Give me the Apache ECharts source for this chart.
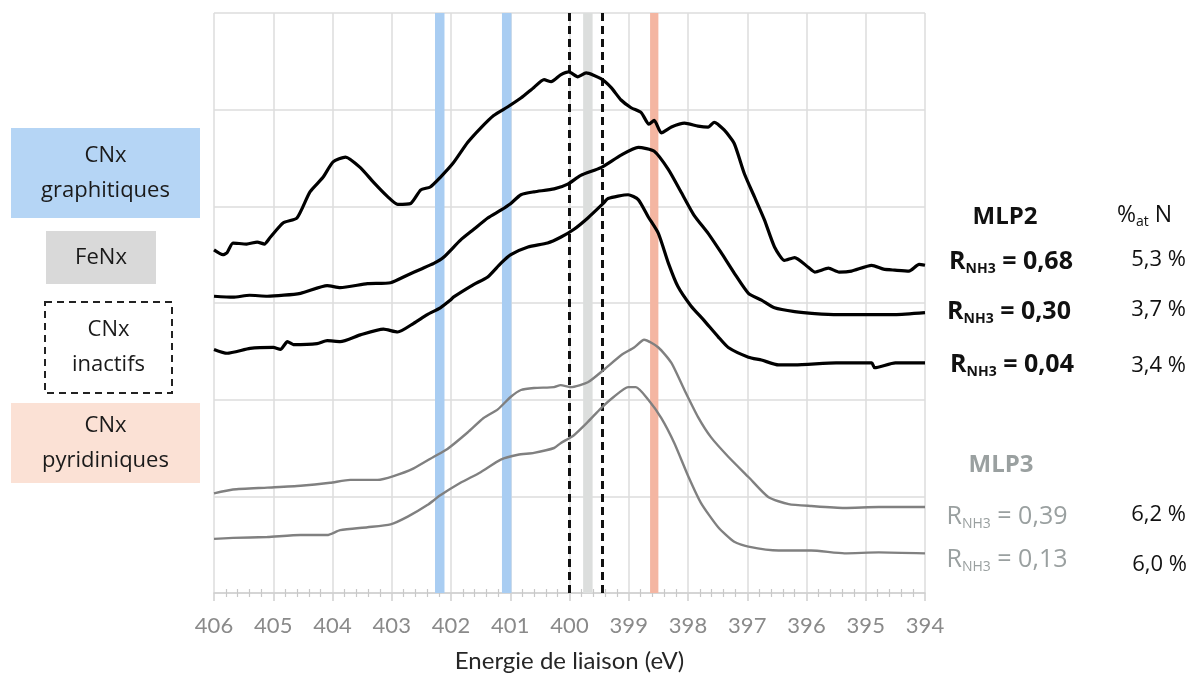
<!DOCTYPE html>
<html><head><meta charset="utf-8">
<script src="https://cdn.jsdelivr.net/npm/echarts@6/dist/echarts.min.js"></script>
<style>html,body{margin:0;padding:0;background:#fff}#c{width:1195px;height:678px}</style>
</head><body><div id="c"></div>
<script>
// Binding energy axis (eV), inverted
const xTicks = [406,405,404,403,402,401,400,399,398,397,396,395,394];
// Spectra: [binding energy eV, intensity (a.u., offset)]
const mlp2_068 = [[406.00,3.55],[405.85,3.50],[405.78,3.52],[405.68,3.62],[405.45,3.61],[405.27,3.63],[405.15,3.61],[405.05,3.68],[404.83,3.83],[404.60,3.88],[404.38,4.15],[404.16,4.30],[403.99,4.46],[403.78,4.51],[403.53,4.40],[403.31,4.25],[403.07,4.10],[402.90,4.02],[402.68,4.03],[402.51,4.17],[402.35,4.20],[402.18,4.30],[401.96,4.45],[401.72,4.66],[401.50,4.81],[401.28,4.94],[401.04,5.03],[400.82,5.12],[400.60,5.23],[400.43,5.31],[400.31,5.29],[400.15,5.36],[400.01,5.39],[399.86,5.34],[399.72,5.38],[399.47,5.32],[399.30,5.23],[399.13,5.10],[398.96,5.02],[398.79,4.97],[398.66,4.85],[398.57,4.89],[398.45,4.76],[398.28,4.82],[398.06,4.86],[397.83,4.83],[397.66,4.82],[397.56,4.87],[397.39,4.79],[397.22,4.65],[397.05,4.34],[396.88,4.10],[396.71,3.86],[396.54,3.58],[396.37,3.44],[396.20,3.47],[395.97,3.37],[395.86,3.32],[395.63,3.36],[395.45,3.32],[395.24,3.33],[394.90,3.39],[394.70,3.35],[394.51,3.34],[394.27,3.33],[394.10,3.40],[394.00,3.39]];
const mlp2_030 = [[406.00,3.07],[405.68,3.06],[405.40,3.08],[405.10,3.07],[404.54,3.10],[404.09,3.18],[403.87,3.16],[403.41,3.20],[403.02,3.21],[402.73,3.29],[402.51,3.35],[402.29,3.41],[402.13,3.47],[401.84,3.65],[401.62,3.76],[401.38,3.88],[401.16,3.96],[400.99,4.03],[400.82,4.12],[400.60,4.15],[400.26,4.18],[400.03,4.23],[399.81,4.32],[399.47,4.40],[399.13,4.53],[398.84,4.61],[398.57,4.57],[398.33,4.38],[398.11,4.14],[397.90,3.91],[397.66,3.72],[397.44,3.52],[397.22,3.31],[396.98,3.10],[396.76,3.03],[396.54,2.95],[396.20,2.91],[395.86,2.89],[395.46,2.88],[395.07,2.88],[394.51,2.88],[394.00,2.90]];
const mlp2_004 = [[406.00,2.52],[405.78,2.48],[405.39,2.53],[405.00,2.54],[404.88,2.52],[404.76,2.60],[404.66,2.57],[404.26,2.58],[404.09,2.61],[403.87,2.60],[403.53,2.67],[403.14,2.73],[402.90,2.70],[402.63,2.79],[402.40,2.88],[402.18,2.95],[402.01,3.03],[401.96,3.06],[401.62,3.19],[401.38,3.27],[401.16,3.41],[400.99,3.50],[400.70,3.58],[400.37,3.62],[400.15,3.68],[399.93,3.76],[399.69,3.88],[399.43,4.03],[399.35,4.08],[399.01,4.12],[398.84,4.07],[398.67,3.89],[398.50,3.72],[398.33,3.41],[398.17,3.17],[397.95,2.97],[397.73,2.82],[397.49,2.65],[397.32,2.54],[396.98,2.44],[396.76,2.41],[396.47,2.36],[396.20,2.36],[395.50,2.38],[394.90,2.38],[394.85,2.33],[394.50,2.38],[394.00,2.38]];
const mlp3_039 = [[406.00,1.03],[405.68,1.07],[405.10,1.09],[404.54,1.11],[404.04,1.14],[403.70,1.17],[403.24,1.17],[402.97,1.21],[402.63,1.29],[402.29,1.41],[402.06,1.49],[401.72,1.66],[401.45,1.81],[401.21,1.90],[400.99,2.03],[400.82,2.10],[400.60,2.12],[400.26,2.13],[400.15,2.15],[399.98,2.13],[399.69,2.18],[399.42,2.31],[399.13,2.46],[398.91,2.54],[398.74,2.62],[398.50,2.54],[398.28,2.38],[398.06,2.10],[397.83,1.82],[397.61,1.61],[397.32,1.41],[396.98,1.20],[396.64,0.99],[396.30,0.92],[395.92,0.90],[395.36,0.88],[394.78,0.89],[394.00,0.89]];
const mlp3_013 = [[406.00,0.56],[405.68,0.57],[405.10,0.58],[404.54,0.60],[404.09,0.60],[403.87,0.65],[403.41,0.68],[403.02,0.71],[402.73,0.79],[402.40,0.91],[402.18,1.01],[401.84,1.14],[401.50,1.25],[401.16,1.38],[400.87,1.43],[400.60,1.45],[400.26,1.50],[400.15,1.55],[399.93,1.63],[399.69,1.77],[399.47,1.91],[399.25,2.03],[399.01,2.13],[398.88,2.13],[398.67,2.00],[398.45,1.81],[398.23,1.55],[397.99,1.20],[397.78,0.93],[397.49,0.68],[397.22,0.53],[396.98,0.48],[396.47,0.44],[395.92,0.44],[395.36,0.41],[394.78,0.42],[394.00,0.41]];
// Reference positions (eV)
const graphiticBands = [[402.27,402.11],[401.14,400.98]];
const feNxBand = [399.77,399.61];
const pyridinicBand = [398.64,398.50];
const inactiveLines = [400.0, 399.44];
const labelsMLP2 = ['0,68','0,30','0,04'];
const pctMLP2 = ['5,3 %','3,7 %','3,4 %'];
const labelsMLP3 = ['0,39','0,13'];
const pctMLP3 = ['6,2 %','6,0 %'];

const FONT = 'Lato, "Open Sans", sans-serif';
const FONT2 = '"Open Sans", Lato, sans-serif';
const chart = echarts.init(document.getElementById('c'));

function line(data, color, w){
  return {type:'line', data, showSymbol:false, symbol:'none', smooth:0.2, z:5,
    lineStyle:{color, width:w}, silent:true};
}
const bandSeries = {
  type:'line', data:[], z:1, silent:true,
  markArea:{silent:true, data:[
    [{xAxis:graphiticBands[0][0], itemStyle:{color:'#a9cdf2'}},{xAxis:graphiticBands[0][1]}],
    [{xAxis:graphiticBands[1][0], itemStyle:{color:'#a9cdf2'}},{xAxis:graphiticBands[1][1]}],
    [{xAxis:feNxBand[0], itemStyle:{color:'#dcdedd'}},{xAxis:feNxBand[1]}],
    [{xAxis:pyridinicBand[0], itemStyle:{color:'#f4b6a2'}},{xAxis:pyridinicBand[1]}]
  ]},
  markLine:{silent:true, symbol:'none', label:{show:false},
    lineStyle:{color:'#111', type:[8,5], width:3},
    data: inactiveLines.map(v=>({xAxis:v}))}
};

function rlabel(cx,cy,val,color,bold){
  const fw = bold?'bold':'normal';
  return {type:'text', x:cx, y:cy, z:10, style:{
    text:`{a|R}{s|NH3}{a| = ${val}}`, fill:color, textAlign:'center', textVerticalAlign:'middle',
    rich:{a:{fontFamily:FONT2,fontSize:25,fontWeight:fw,fill:color,lineHeight:30},
          s:{fontFamily:FONT2,fontSize:14,fontWeight:fw,fill:color,lineHeight:30,padding:[14,0,0,0]}}}};
}
function txt(x,y,t,size,color,bold,align){
  return {type:'text', x, y, z:10, style:{text:t, fontFamily:FONT2, fontSize:size,
    fontWeight:bold?'bold':'normal', fill:color, textAlign:align||'left', textVerticalAlign:'middle'}};
}
function box(x,y,w,h,fill,lines,dashed){
  const g = [{type:'rect', shape:{x,y,width:w,height:h}, z:1,
    style: dashed?{fill:'#fff',stroke:'#222',lineWidth:2,lineDash:[7,5]}:{fill}}];
  const n = lines.length;
  lines.forEach((t,i)=>{
    g.push({type:'text', x:x+w/2, y:y+h/2+(i-(n-1)/2)*35, z:2,
      style:{text:t, fontFamily:FONT2, fontSize:22, fill:'#1a1a1a', textAlign:'center', textVerticalAlign:'middle'}});
  });
  return g;
}
const graphics = [].concat(
  box(11,128,189,90,'#b5d5f5',['CNx','graphitiques']),
  box(46,231,110,53,'#d9d9d9',['FeNx']),
  box(45,302,127,91,'#fff',['CNx','inactifs'],true),
  box(11,403,189,80,'#fbe1d5',['CNx','pyridiniques']),
  [
    txt(1005,217,'MLP2',24,'#111',true,'center'),
    {type:'text', x:1172, y:215, z:10, style:{text:'{a|%}{s|at}{a| N}', fill:'#111', textAlign:'right', textVerticalAlign:'middle',
      rich:{a:{fontFamily:FONT2,fontSize:23,fill:'#111',lineHeight:30},s:{fontFamily:FONT2,fontSize:14,fill:'#111',lineHeight:30,padding:[14,0,0,0]}}}},
    rlabel(1011,262,labelsMLP2[0],'#111',true),
    rlabel(1009,312,labelsMLP2[1],'#111',true),
    rlabel(1012,365,labelsMLP2[2],'#111',true),
    txt(1186,260,pctMLP2[0],22,'#111',false,'right'),
    txt(1186,310,pctMLP2[1],22,'#111',false,'right'),
    txt(1186,366,pctMLP2[2],22,'#111',false,'right'),
    txt(1001,465,'MLP3',24,'#9aa0a0',true,'center'),
    rlabel(1007,517,labelsMLP3[0],'#9aa0a0',false),
    rlabel(1007,560,labelsMLP3[1],'#9aa0a0',false),
    txt(1186,515,pctMLP3[0],22,'#111',false,'right'),
    txt(1187,565,pctMLP3[1],22,'#111',false,'right')
  ]
);

chart.setOption({
  animation:false,
  backgroundColor:'#fff',
  grid:{left:214, right:270, top:13, bottom:85},
  xAxis:[{
    type:'value', min:394, max:406, interval:1, inverse:true,
    name:'Energie de liaison (eV)', nameLocation:'middle', nameGap:56,
    nameTextStyle:{fontFamily:FONT, fontSize:24, color:'#262626'},
    axisLine:{lineStyle:{color:'#cfcfcf', width:1.5}},
    axisTick:{show:true, length:8, lineStyle:{color:'#cfcfcf', width:1.5}},
    minorTick:{show:true, splitNumber:5, length:4, lineStyle:{color:'#c8c8c8', width:1.2}},
    axisLabel:{fontFamily:FONT, fontSize:22, color:'#8a8a8a', margin:22},
    splitLine:{show:true, lineStyle:{color:'#dddddd', width:1.5}}
  },{
    type:'value', min:394, max:406, interval:1, inverse:true, position:'bottom',
    axisLine:{show:false}, axisLabel:{show:false}, splitLine:{show:false},
    axisTick:{show:false},
    minorTick:{show:true, splitNumber:5, length:-4, lineStyle:{color:'#c8c8c8', width:1.2}}
  }],
  yAxis:{type:'value', min:0, max:6, interval:1,
    axisLine:{show:false}, axisTick:{show:false}, axisLabel:{show:false},
    splitLine:{show:true, lineStyle:{color:'#dddddd', width:1.5}}},
  series:[
    bandSeries,
    line(mlp3_039,'#808080',2.4),
    line(mlp3_013,'#808080',2.4),
    line(mlp2_004,'#000',3.2),
    line(mlp2_030,'#000',3.2),
    line(mlp2_068,'#000',3.2)
  ],
  graphic:graphics
});
</script></body></html>
